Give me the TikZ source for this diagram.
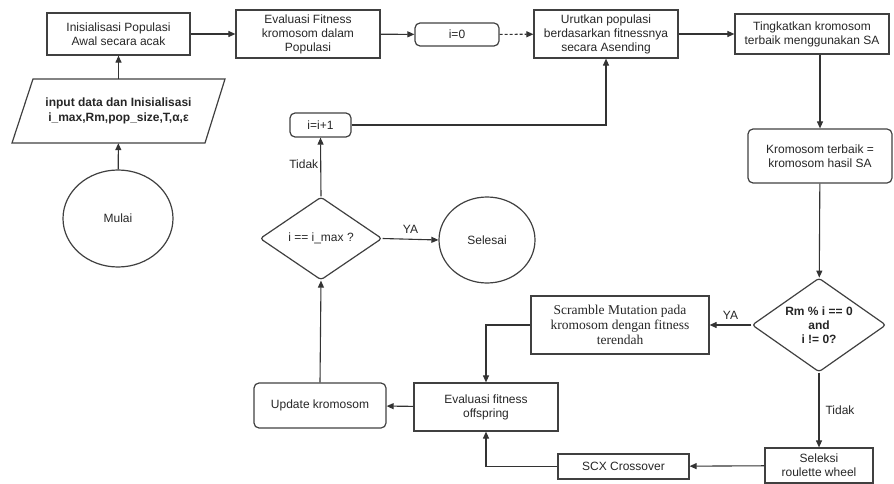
\documentclass[tikz,border=0pt]{standalone}
\usepackage{fontspec}
\setmainfont{Liberation Sans}
\newfontfamily\serifx{Liberation Serif}
\usetikzlibrary{arrows.meta,shapes.geometric}
\begin{document}
\begin{tikzpicture}[x=1pt,y=-1pt,
  every node/.style={font=\fontsize{12}{14}\selectfont, text=black!85, inner sep=0pt},
  box/.style={draw=black!75, line width=1.2pt, align=center, rectangle},
  rbox/.style={box, rounded corners=5pt},
  dia/.style={draw=black!75, line width=1.2pt, diamond, align=center, rounded corners=3pt},
  ell/.style={draw=black!75, line width=1.2pt, ellipse},
  arr/.style={draw=black!80, line width=1.1pt, -{Triangle[length=7pt,width=6pt]}},
  lbl/.style={text=black!85}
]
\useasboundingbox (0,0) rectangle (894,484);

% nodes
\node[box, minimum width=143pt, minimum height=42pt] (init) at (118.5,34) {Inisialisasi Populasi\\Awal secara acak};
\node[align=center, minimum width=192pt, minimum height=64pt, font=\fontsize{12}{15}\selectfont\bfseries] (param) at (118.5,111) {input data dan Inisialisasi\\i\_max,Rm,pop\_size,T,α,ε};
\draw[draw=black!75, line width=1.2pt] (33,79) -- (225,79) -- (205,143) -- (12,143) -- cycle;
\node[ell, minimum width=110pt, minimum height=97pt] (mulai) at (118,218.5) {Mulai};

\node[box, minimum width=144pt, minimum height=48pt] (evalfit) at (308,34) {Evaluasi Fitness\\kromosom dalam\\Populasi};
\node[rbox, minimum width=84pt, minimum height=23pt] (i0) at (457,34.5) {i=0};
\node[box, minimum width=144pt, minimum height=48pt] (urut) at (606,34) {Urutkan populasi\\berdasarkan fitnessnya\\secara Asending};
\node[box, minimum width=154pt, minimum height=40pt] (ting) at (812,34) {Tingkatkan kromosom\\terbaik menggunakan SA};
\node[rbox, minimum width=144pt, minimum height=54pt] (krom) at (820,156) {Kromosom terbaik =\\kromosom hasil SA};
\node[dia, aspect=1.43, minimum width=134pt, minimum height=94pt, font=\fontsize{12}{14}\selectfont\bfseries] (rm) at (819,325) {Rm \% i == 0\\and\\i != 0?};
\node[box, minimum width=178pt, minimum height=58pt, font=\fontsize{13.5}{15}\selectfont\serifx] (scr) at (620,325) {Scramble Mutation pada\\kromosom dengan fitness\\terendah};
\node[box, minimum width=108pt, minimum height=35pt] (sel) at (819,465.5) {Seleksi\\roulette wheel};
\node[box, minimum width=131pt, minimum height=25pt] (scx) at (623.5,466.5) {SCX Crossover};
\node[box, minimum width=144pt, minimum height=48pt] (evoff) at (486,407) {Evaluasi fitness\\offspring};
\node[rbox, minimum width=132pt, minimum height=45pt] (upd) at (320,405.5) {Update kromosom};
\node[dia, aspect=1.47, minimum width=122pt, minimum height=83pt] (imax) at (321,238.5) {i == i\_max ?};
\node[ell, minimum width=96pt, minimum height=86pt] (selesai) at (487,240) {Selesai};
\node[rbox, minimum width=61pt, minimum height=24pt] (inc) at (320.5,125) {i=i+1};

% connectors
\draw[arr] (mulai) -- (param);
\draw[arr] (param) -- (init);
\draw[arr] (init) -- (evalfit);
\draw[arr] (evalfit) -- (i0);
\draw[arr, dash pattern=on 3pt off 2pt] (i0) -- (urut);
\draw[arr] (urut) -- (ting);
\draw[arr] (ting.south -| krom.north) -- (krom.north);
\draw[arr] (krom) -- (rm);
\draw[arr] (rm.west) -- node[lbl, above=5pt] {YA} (scr.east);
\draw[arr] (rm.south) -- node[lbl, right=6pt, pos=0.5] {Tidak} (sel.north);
\draw[arr] (sel) -- (scx);
\draw[arr] (scx.west) -| (evoff.south);
\draw[arr] (scr.west) -| (evoff.north);
\draw[arr] (evoff) -- (upd);
\draw[arr] (upd.north) -- (imax.south);
\draw[arr] (imax.north) -- node[lbl, left=2pt, pos=0.55] {Tidak} (inc.south);
\draw[arr] (imax.east) -- node[lbl, above=5pt] {YA} (selesai.west);
\draw[arr] (inc.east) -| (urut.south);
\end{tikzpicture}
\end{document}
